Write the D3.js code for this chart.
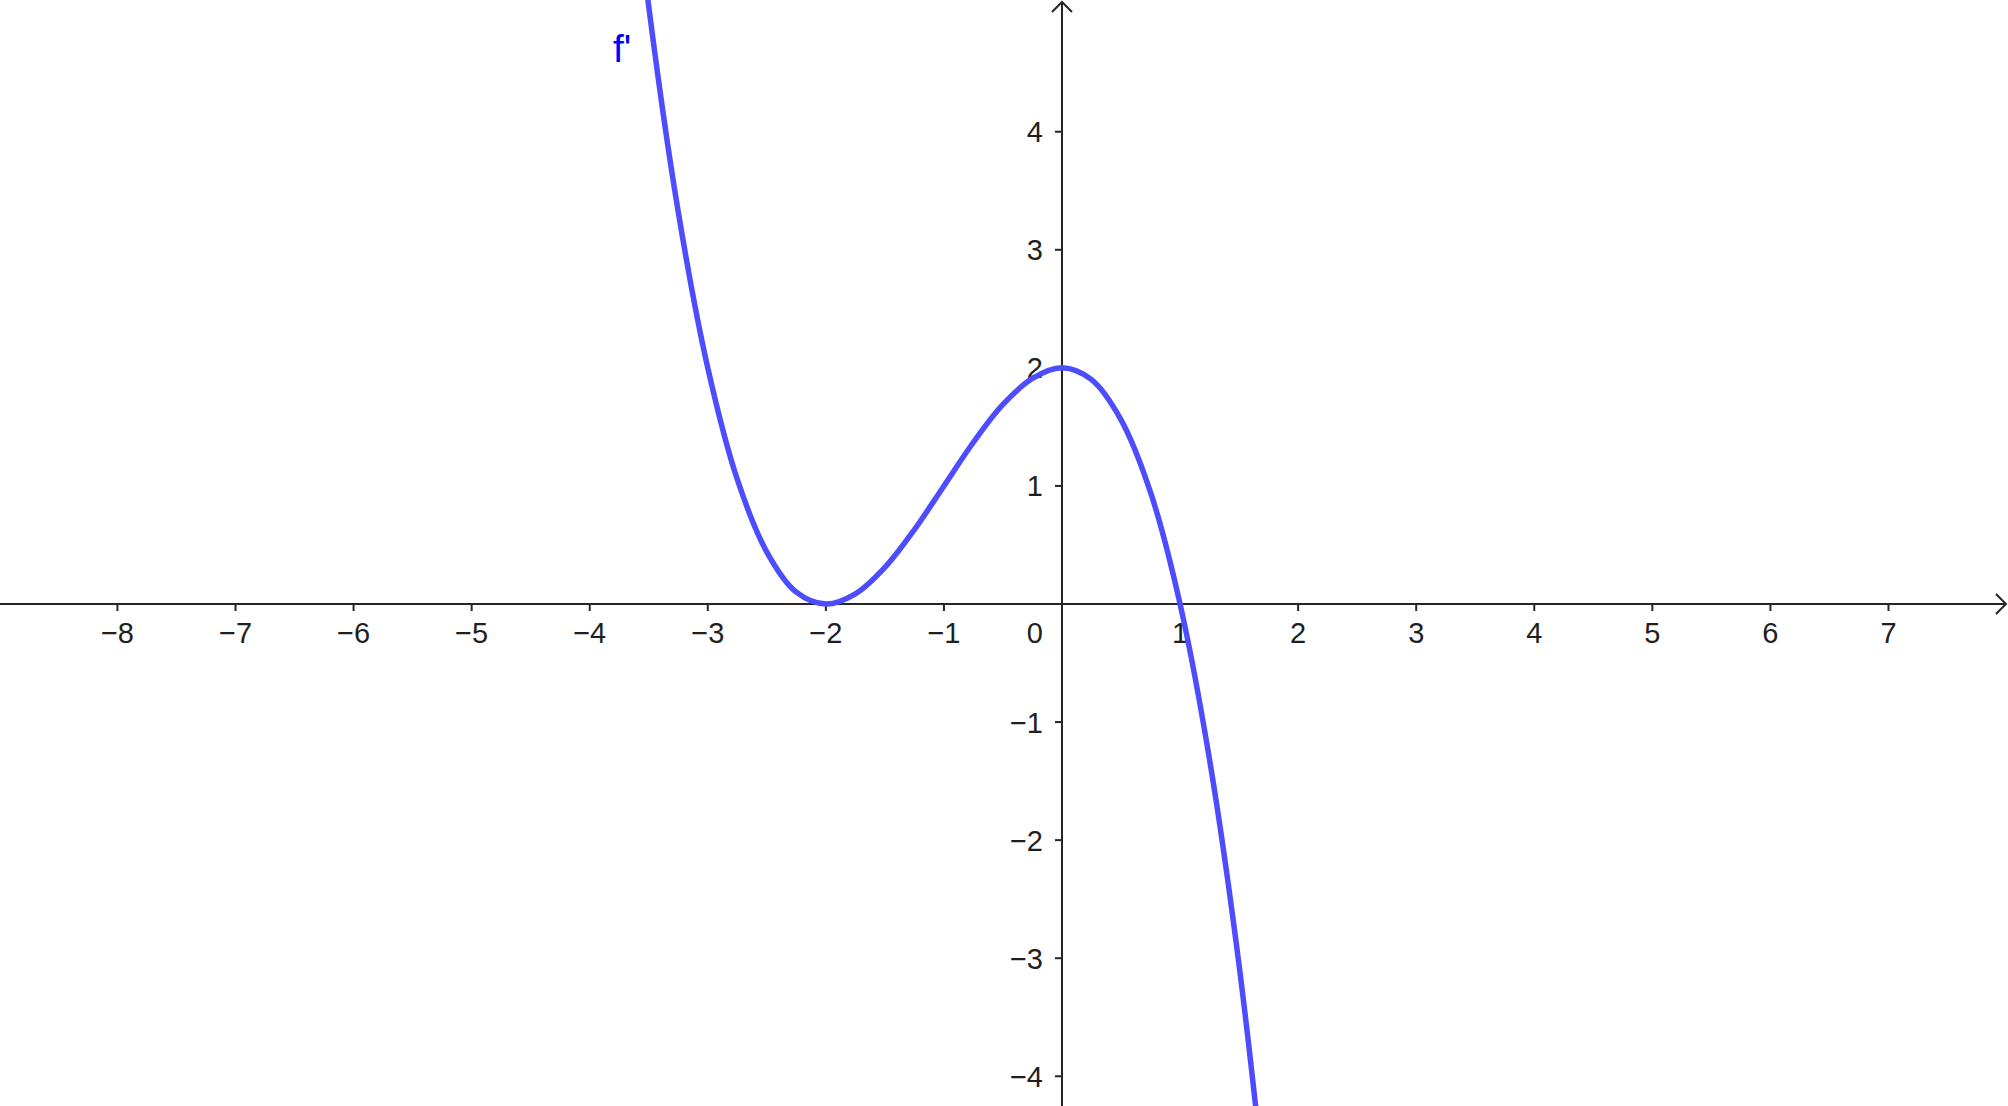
<!doctype html>
<html>
<head>
    <meta charset="utf-8"/>
    <style>
        html, body { margin: 0; padding: 0; background: #fff; }
        svg { display: block; }
        .tick-label { font-family: "Liberation Sans", Arial, sans-serif; font-size: 29px; fill: #1f1f1f; }
    </style>
    <script src="https://d3js.org/d3.v7.min.js"></script>
</head>
<body>
<svg id="chart" width="2008" height="1106"></svg>

<script>
    var curveX = [-3.75, -3.5, -3.25, -3, -2.75, -2.5, -2.25, -2, -1.75, -1.5, -1.25, -1,
                  -0.75, -0.5, -0.25, 0, 0.25, 0.5, 0.75, 1, 1.25, 1.5, 1.75];
    var curveY = [7.27, 5.06, 3.32, 2.0, 1.055, 0.44, 0.10, 0, 0.086, 0.31, 0.63, 1.0,
                  1.37, 1.69, 1.91, 2.0, 1.90, 1.56, 0.945, 0, -1.32, -3.06, -5.27];

    var xTicks = [-8, -7, -6, -5, -4, -3, -2, -1, 1, 2, 3, 4, 5, 6, 7];
    var yTicks = [-4, -3, -2, -1, 1, 2, 3, 4];
    var curveName = "f'";

    var width = 2008, height = 1106;
    var originX = 1062, originY = 604, unit = 118.07;
    var axisColor = "#262626";

    var svg = d3.select("#chart");

    var x = d3.scaleLinear()
        .domain([-originX / unit, (width - originX) / unit])
        .range([0, width]);
    var y = d3.scaleLinear()
        .domain([-(height - originY) / unit, originY / unit])
        .range([height, 0]);

    var fmt = function(v) { return v < 0 ? "\u2212" + Math.abs(v) : "" + v; };

    // axes
    var axes = svg.append("g")
        .attr("stroke", axisColor)
        .attr("stroke-width", 2)
        .attr("fill", "none");

    axes.append("line")
        .attr("x1", 0).attr("x2", width - 2)
        .attr("y1", y(0)).attr("y2", y(0));
    axes.append("line")
        .attr("x1", x(0)).attr("x2", x(0))
        .attr("y1", 2).attr("y2", height);

    // arrow heads
    axes.append("path")
        .attr("d", "M" + (width - 12) + "," + (y(0) - 10) + "L" + (width - 2) + "," + y(0) + "L" + (width - 12) + "," + (y(0) + 10));
    axes.append("path")
        .attr("d", "M" + (x(0) - 10) + ",12L" + x(0) + ",2L" + (x(0) + 10) + ",12");

    // x ticks + labels
    axes.selectAll(".xt")
        .data(xTicks)
        .join("line")
        .attr("class", "xt")
        .attr("x1", function(d) { return x(d); })
        .attr("x2", function(d) { return x(d); })
        .attr("y1", y(0))
        .attr("y2", y(0) + 7);

    svg.selectAll(".xl")
        .data(xTicks)
        .join("text")
        .attr("class", "xl tick-label")
        .attr("x", function(d) { return x(d); })
        .attr("y", y(0) + 39)
        .attr("text-anchor", "middle")
        .text(fmt);

    // y ticks + labels
    axes.selectAll(".yt")
        .data(yTicks)
        .join("line")
        .attr("class", "yt")
        .attr("x1", x(0) - 7)
        .attr("x2", x(0))
        .attr("y1", function(d) { return y(d); })
        .attr("y2", function(d) { return y(d); });

    svg.selectAll(".yl")
        .data(yTicks)
        .join("text")
        .attr("class", "yl tick-label")
        .attr("x", x(0) - 19)
        .attr("y", function(d) { return y(d) + 10.5; })
        .attr("text-anchor", "end")
        .text(fmt);

    svg.append("text")
        .attr("class", "tick-label")
        .attr("x", x(0) - 19)
        .attr("y", y(0) + 39)
        .attr("text-anchor", "end")
        .text("0");

    // the curve
    var pts = curveX.map(function(v, i) { return [v, curveY[i]]; });
    var line = d3.line()
        .x(function(d) { return x(d[0]); })
        .y(function(d) { return y(d[1]); })
        .curve(d3.curveCatmullRom.alpha(0.5));

    svg.append("path")
        .datum(pts)
        .attr("d", line)
        .attr("fill", "none")
        .attr("stroke", "rgb(77,77,255)")
        .attr("stroke-width", 5.5)
        .attr("stroke-linejoin", "round");

    svg.append("text")
        .attr("x", 613)
        .attr("y", 62)
        .attr("font-family", "Liberation Sans, Arial, sans-serif")
        .attr("font-size", 39)
        .attr("fill", "#0000ff")
        .text(curveName);
</script>
</body>
</html>
